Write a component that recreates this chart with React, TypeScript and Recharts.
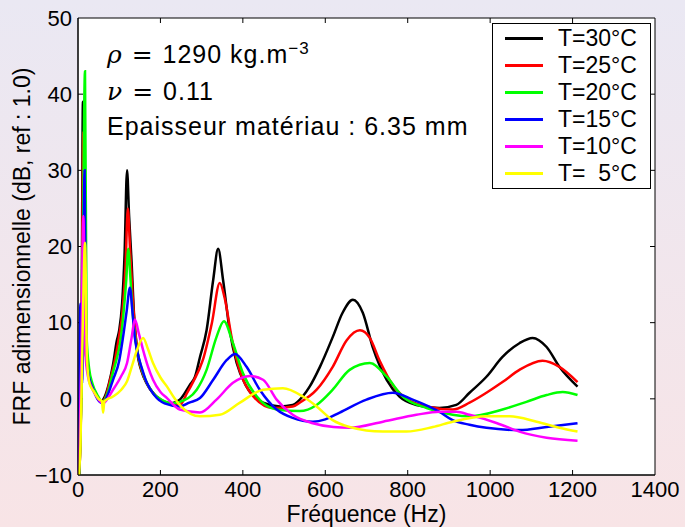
import { LineChart, Line, XAxis, YAxis, ReferenceArea, ReferenceLine, Legend } from 'recharts';

type Pt = [number, number];

// axes
const xTicks = [0, 200, 400, 600, 800, 1000, 1200, 1400];
const yTicks = [-10, 0, 10, 20, 30, 40, 50];

// FRF (dB), [frequency Hz, level dB]
const frf30: Pt[] = [
  [3, -10], [8, 2], [12, 39], [16, 9], [22, 4.5], [30, 2.5], [42, 0.8], [55, -0.3], [65, 0.3], [75, 2],
  [85, 4.5], [94, 7.6], [100, 9], [107, 12.5], [113, 19], [119, 30], [124, 24], [130, 18], [136, 11], [143, 6.5],
  [155, 3.5], [167, 2], [185, 0.6], [200, -0.1], [225, -0.6], [247, -0.1], [271, 1.8], [284, 2.9], [296, 5.5], [312, 9],
  [328, 15.6], [340, 19.7], [352, 15.6], [368, 9], [385, 4.7], [409, 1.6], [449, -0.5], [490, -1], [521, -0.8], [545, 0.3],
  [562, 1.6], [587, 4.2], [618, 8.1], [642, 11.3], [667, 13], [691, 11.3], [715, 6.8], [749, 2.5], [780, 0.3], [821, -0.8],
  [877, -1.2], [918, -0.8], [950, 0.8], [991, 2.9], [1030, 5.5], [1071, 7.3], [1103, 8], [1137, 6.8], [1168, 4.2], [1212, 1.6],
];

const frf25: Pt[] = [
  [3, -10], [8, 1], [13, 35], [17, 8], [23, 4], [31, 2.2], [43, 0.6], [57, -0.4], [68, 0.4], [78, 2.5],
  [90, 5.2], [100, 8.3], [108, 11.5], [115, 17], [121, 25], [126, 20], [132, 14], [138, 9.5], [145, 6],
  [157, 3.3], [170, 1.7], [190, 0.3], [215, -0.5], [247, -0.8], [265, 0.8], [279, 2.2], [303, 5.1], [325, 10],
  [344, 15.2], [356, 13.2], [373, 8], [393, 3.6], [424, 0.4], [473, -1.2], [521, -1], [538, -0.5], [579, 1.2],
  [618, 4.2], [652, 7.7], [684, 9], [708, 8], [732, 5], [764, 1.8], [797, 0], [846, -1], [909, -1.4], [950, -0.5],
  [991, 0.8], [1030, 2.2], [1071, 3.8], [1127, 5], [1168, 4.2], [1212, 2.2],
];

const frf20: Pt[] = [
  [3, -10], [9, 3], [17, 43], [21, 8], [27, 4], [35, 2], [47, 0.5], [60, -0.4], [72, 0.8], [85, 3.5],
  [95, 5.5], [102, 7.3], [110, 11], [117, 15.5], [122, 19.7], [127, 16], [133, 11], [140, 7.5], [150, 4.8],
  [162, 2.7], [180, 0.9], [205, -0.2], [230, -0.6], [247, -0.4], [288, 1.2], [312, 3.8], [336, 8.1], [354, 10.2],
  [376, 7.3], [400, 3.4], [434, 0.3], [482, -1.4], [538, -1.6], [579, -0.8], [618, 1.2], [659, 3.8], [708, 4.7],
  [749, 2.9], [788, 0.3], [846, -1.2], [909, -2.1], [950, -2.3], [1030, -1.4], [1088, -0.4], [1137, 0.5],
  [1176, 0.9], [1212, 0.5],
];

const frf15: Pt[] = [
  [2, -10], [6, 12.5], [10, 2], [16, 30], [20, 6], [26, 3], [35, 1.5], [47, 0], [60, -0.6], [72, 0.5],
  [85, 2.5], [100, 5], [109, 8], [118, 11.5], [126, 14.6], [132, 11.5], [138, 8], [143, 6.4], [155, 4],
  [167, 2.1], [185, 0.5], [210, -0.6], [247, -1], [270, -0.5], [296, 0.1], [328, 2.5], [361, 5.1], [381, 5.9],
  [409, 4.2], [441, 1.2], [482, -1.4], [521, -2.5], [570, -3], [600, -2.7], [635, -1.8], [700, -0.1], [764, 0.8],
  [812, -0.1], [877, -1.7], [909, -2.8], [950, -3.4], [991, -3.8], [1071, -4.1], [1137, -3.7], [1212, -3.2],
];

const frf10: Pt[] = [
  [2, -10], [8, 5], [13, 24], [18, 6], [24, 3], [33, 1.5], [45, 0.3], [60, -0.6], [85, 1.2], [105, 3],
  [119, 4.7], [130, 8], [138, 10.4], [148, 8.5], [158, 6.4], [170, 4.2], [182, 2.5], [200, 0.9], [216, 0.1],
  [247, -1.4], [296, -1.8], [336, -0.1], [376, 2.1], [417, 3], [449, 2.5], [482, -0.1], [521, -2.1], [570, -3.2],
  [620, -3.7], [659, -3.8], [740, -3], [821, -2.1], [877, -1.7], [918, -1.7], [950, -2.1], [1017, -3.2],
  [1071, -4.3], [1137, -5.1], [1212, -5.5],
];

const frf5: Pt[] = [
  [2, -10], [6, -6], [11, 8], [17, 20.5], [22, 5], [28, 2], [38, 1], [50, 0], [58, -0.3], [61, -1.8],
  [64, -0.3], [85, 0.3], [105, 1.2], [119, 2.3], [132, 4.5], [143, 6.4], [158, 8], [170, 6.5], [182, 4.7],
  [200, 2.8], [216, 1.6], [235, 0], [250, -1], [296, -2.3], [344, -2.1], [393, -0.5], [449, 1.2], [497, 1.4],
  [546, 0.3], [579, -1], [618, -2.8], [659, -3.7], [740, -4.3], [797, -4.3], [861, -3.7], [909, -3],
  [991, -2.3], [1047, -2.3], [1113, -3], [1168, -3.8], [1212, -4.3],
];

const seriesNames = ['T=30°C', 'T=25°C', 'T=20°C', 'T=15°C', 'T=10°C', 'T=  5°C'];
const seriesColors = ['#000000', '#ff0000', '#00ff00', '#0000ff', '#ff00ff', '#ffff00'];
const seriesData = [frf30, frf25, frf20, frf15, frf10, frf5];

const font = '"Liberation Sans", Arial, sans-serif';
const mathFont = '"DejaVu Serif", serif';

// plot box in px, used only to size the inward tick marks
const plotW = 577;
const plotH = 457;
const xTickLen = (1400 * 5) / plotW;
const yTickLen = (60 * 5) / plotH;

const fmtY = (v: number) => (v < 0 ? `\u2212${-v}` : `${v}`);

function LegendBox({ payload }: any) {
  const items = [...(payload || [])].sort(
    (a: any, b: any) => seriesNames.indexOf(a.value) - seriesNames.indexOf(b.value),
  );
  return (
    <div style={{ border: '1px solid #000', background: '#fff', width: 157, padding: '1px 0', fontFamily: font, fontSize: 23 }}>
      {items.map((e: any) => (
        <div key={e.value} style={{ display: 'flex', alignItems: 'center', height: 27 }}>
          <span style={{ display: 'inline-block', width: 38, height: 3, background: e.color, marginLeft: 12, marginRight: 15 }} />
          <span style={{ whiteSpace: 'pre', lineHeight: '27px' }}>{e.value}</span>
        </div>
      ))}
    </div>
  );
}

export default function App() {
  return (
    <div
      style={{
        position: 'absolute', left: 0, top: 0, width: 685, height: 527,
        background: 'linear-gradient(to bottom, #eae8f3, #f8e4e6)', fontFamily: font,
      }}
    >
      <LineChart width={685} height={527} margin={{ top: 18, right: 30, bottom: 0, left: 0 }}>
        <ReferenceArea x1={0} x2={1400} y1={-10} y2={50} fill="#fff" fillOpacity={1} stroke="#000" strokeWidth={1} />
        <XAxis
          dataKey="f" type="number" domain={[0, 1400]} ticks={xTicks} height={52}
          axisLine={{ stroke: '#000' }} tickLine={false} tickSize={0} tickMargin={6}
          tick={{ fill: '#000', fontSize: 22, fontFamily: font }}
          label={{ value: 'Fréquence (Hz)', position: 'insideBottom', offset: 5, fill: '#000', fontSize: 23, fontFamily: font }}
        />
        <YAxis
          type="number" domain={[-10, 50]} ticks={yTicks} width={78} allowDataOverflow
          axisLine={{ stroke: '#000' }} tickLine={false} tickSize={0} tickMargin={6} tickFormatter={fmtY}
          tick={{ fill: '#000', fontSize: 22, fontFamily: font }}
          label={{
            value: 'FRF adimensionnelle (dB, ref : 1.0)', angle: -90, position: 'insideLeft', offset: 22,
            fill: '#000', fontSize: 23, fontFamily: font, style: { textAnchor: 'middle' },
          }}
        />
        {xTicks.slice(1, -1).map((t) => (
          <ReferenceLine key={`xb${t}`} segment={[{ x: t, y: -10 }, { x: t, y: -10 + yTickLen }]} stroke="#000" />
        ))}
        {xTicks.slice(1, -1).map((t) => (
          <ReferenceLine key={`xt${t}`} segment={[{ x: t, y: 50 }, { x: t, y: 50 - yTickLen }]} stroke="#000" />
        ))}
        {yTicks.slice(1, -1).map((t) => (
          <ReferenceLine key={`yl${t}`} segment={[{ x: 0, y: t }, { x: xTickLen, y: t }]} stroke="#000" />
        ))}
        {yTicks.slice(1, -1).map((t) => (
          <ReferenceLine key={`yr${t}`} segment={[{ x: 1400, y: t }, { x: 1400 - xTickLen, y: t }]} stroke="#000" />
        ))}
        {seriesData.map((pts, i) => (
          <Line
            key={seriesNames[i]}
            name={seriesNames[i]}
            data={pts.map(([f, v]) => ({ f, v }))}
            dataKey="v"
            type="monotone"
            stroke={seriesColors[i]}
            strokeWidth={2.5}
            dot={false}
            isAnimationActive={false}
          />
        ))}
        <Legend
          layout="vertical" align="center" verticalAlign="middle"
          wrapperStyle={{ top: 23, left: 492, width: 159, height: 'auto' }}
          content={<LegendBox />}
        />
      </LineChart>

      {/* material parameters */}
      <div style={{ position: 'absolute', left: 107, top: 36, fontSize: 25, lineHeight: '25px', letterSpacing: 1, whiteSpace: 'pre' }}>
        <span style={{ fontFamily: mathFont, fontStyle: 'italic' }}>ρ</span>
        <span style={{ fontFamily: mathFont }}> = </span>1290 kg.m<sup style={{ fontSize: 17, verticalAlign: 9 }}>−3</sup>
      </div>
      <div style={{ position: 'absolute', left: 107, top: 79, fontSize: 25, lineHeight: '25px', letterSpacing: 1, whiteSpace: 'pre' }}>
        <span style={{ fontFamily: mathFont, fontStyle: 'italic' }}>ν</span>
        <span style={{ fontFamily: mathFont }}> = </span>0.11
      </div>
      <div style={{ position: 'absolute', left: 107, top: 114, fontSize: 25, lineHeight: '25px', letterSpacing: 1, whiteSpace: 'pre' }}>
        Epaisseur matériau : 6.35 mm
      </div>
    </div>
  );
}
